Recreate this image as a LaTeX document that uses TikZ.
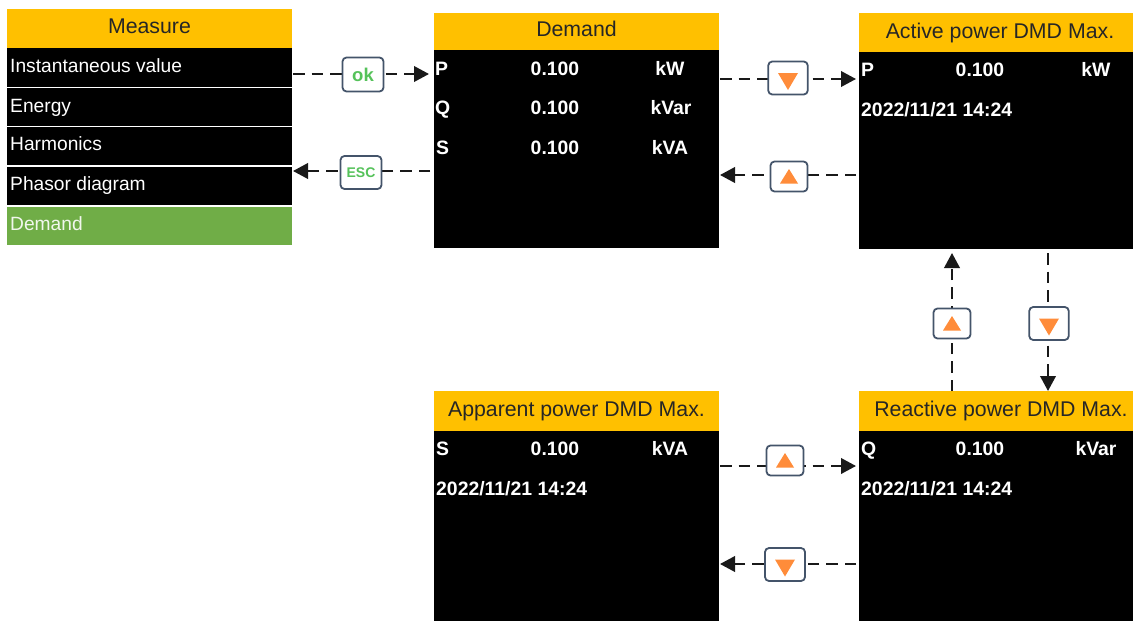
\documentclass[tikz,border=0pt]{standalone}
\usepackage{fontspec}
\setmainfont{Liberation Sans}
\usetikzlibrary{arrows.meta}
\definecolor{gold}{HTML}{FFC000}
\definecolor{leaf}{HTML}{70AD47}
\definecolor{slate}{HTML}{44546A}
\definecolor{tri}{HTML}{FF8C3A}
\definecolor{keygreen}{HTML}{55C25A}
\tikzset{
  panel/.style={inner sep=0pt,outer sep=0pt,anchor=north west},
  head/.style={panel,fill=gold,text=black!85,font=\fontsize{21.3}{24}\selectfont},
  screen/.style={panel,fill=black},
  menurow/.style={panel,fill=black},
  val/.style={text=white,inner sep=0pt,font=\bfseries\fontsize{19.4}{22}\selectfont},
  lft/.style={val,anchor=base west},
  mid/.style={val,anchor=base},
  menutxt/.style={text=white,inner sep=0pt,anchor=base west,font=\fontsize{19.2}{22}\selectfont},
  keybox/.style={draw=slate,line width=1.8pt,rounded corners=4pt,fill=white,inner sep=0pt},
  flow/.style={line width=2.2pt,black!90,dash pattern=on 11.5pt off 7pt,-{Triangle[length=15pt,width=15.5pt]}},
}
\newcommand{\trikeydown}[1]{\fill[tri] (#1.center) ++(-10,-5) -- ++(20,0) -- ++(-10,17) -- cycle;}
\newcommand{\trikeyup}[1]{\fill[tri] (#1.center) ++(-9,7) -- ++(18,0) -- ++(-9,-14.5) -- cycle;}
\begin{document}
\begin{tikzpicture}[x=1pt,y=-1pt]
\useasboundingbox (0,0) rectangle (1133,621);
% Measure menu
\node[head,minimum width=285pt,minimum height=39pt] (mhead) at (7,9) {\raisebox{4pt}{Measure}};
\node[menurow,minimum width=285pt,minimum height=39pt] (r1) at (7,48) {};
\node[menurow,minimum width=285pt,minimum height=38pt] (r2) at (7,88) {};
\node[menurow,minimum width=285pt,minimum height=38pt] (r3) at (7,127) {};
\node[menurow,minimum width=285pt,minimum height=38pt] (r4) at (7,167) {};
\node[panel,fill=leaf,minimum width=285pt,minimum height=38pt] (r5) at (7,207) {};
\node[menutxt] (t1) at (10,72) {Instantaneous value};
\node[menutxt] (t2) at (10,112) {Energy};
\node[menutxt] (t3) at (10,150) {Harmonics};
\node[menutxt] (t4) at (10,190) {Phasor diagram};
\node[menutxt,text=white!90!leaf] (t5) at (10,230) {Demand};
% Demand
\node[head,minimum width=285pt,minimum height=37pt] (dhead) at (434,13) {\raisebox{5pt}{Demand}};
\node[screen,minimum width=285pt,minimum height=198pt] (dbody) at (434,50) {};
\node[lft] (dp) at (435,75) {P};
\node[mid] (dpv) at (555,75) {0.100};
\node[mid] (dpu) at (670,75) {kW};
\node[lft] (dq) at (435,114) {Q};
\node[mid] (dqv) at (555,114) {0.100};
\node[mid] (dqu) at (671,114) {kVar};
\node[lft] (ds) at (436,154) {S};
\node[mid] (dsv) at (555,154) {0.100};
\node[mid] (dsu) at (670,154) {kVA};
% Active
\node[head,minimum width=274pt,minimum height=39pt] (ahead) at (859,13) {\hspace{8pt}\raisebox{2pt}{Active power DMD Max.}};
\node[screen,minimum width=274pt,minimum height=197pt] (abody) at (859,52) {};
\node[lft] (ap) at (861,76) {P};
\node[mid] (apv) at (980,76) {0.100};
\node[mid] (apu) at (1096,76) {kW};
\node[lft] (adt) at (861,116) {2022/11/21 14:24};
% Reactive
\node[head,minimum width=274pt,minimum height=40pt] (qhead) at (859,391) {\hspace{10pt}Reactive power DMD Max.};
\node[screen,minimum width=274pt,minimum height=190pt] (qbody) at (859,431) {};
\node[lft] (qp) at (861,455) {Q};
\node[mid] (qpv) at (980,455) {0.100};
\node[mid] (qpu) at (1096,455) {kVar};
\node[lft] (qdt) at (861,495) {2022/11/21 14:24};
% Apparent
\node[head,minimum width=285pt,minimum height=40pt] (shead) at (434,391) {Apparent power DMD Max.};
\node[screen,minimum width=285pt,minimum height=190pt] (sbody) at (434,431) {};
\node[lft] (sp) at (436,455) {S};
\node[mid] (spv) at (555,455) {0.100};
\node[mid] (spu) at (670,455) {kVA};
\node[lft] (sdt) at (436,495) {2022/11/21 14:24};
% line levels
\coordinate (lok) at (363,74);
\coordinate (lesc) at (361,171);
\coordinate (ld1) at (788,79);
\coordinate (lu1) at (789,175);
\coordinate (lu2) at (952,324);
\coordinate (ld2) at (1048,324);
\coordinate (lu3) at (785,466);
\coordinate (ld3) at (785,564);
% connectors
\draw[flow] ([xshift=1pt]r1.east |- lok) -- ([xshift=-5pt]dbody.west |- lok);
\draw[flow] ([xshift=-4pt]dbody.west |- lesc) -- ([xshift=1pt]r4.east |- lesc);
\draw[flow] ([xshift=1pt]dbody.east |- ld1) -- ([xshift=-3pt]abody.west |- ld1);
\draw[flow] ([xshift=-3pt]abody.west |- lu1) -- ([xshift=1pt]dbody.east |- lu1);
\draw[flow] (qhead.north -| lu2) -- ([yshift=-4pt]abody.south -| lu2);
\draw[flow] ([yshift=-4pt]abody.south -| ld2) -- (qhead.north -| ld2);
\draw[flow] ([xshift=1pt]sbody.east |- lu3) -- ([xshift=-3pt]qbody.west |- lu3);
\draw[flow] ([xshift=-3pt]qbody.west |- ld3) -- ([xshift=1pt]sbody.east |- ld3);
% keys
\node[keybox,minimum width=41pt,minimum height=34pt,text=keygreen,font=\bfseries\fontsize{18.5}{20}\selectfont] (okk) at (363,74.5) {ok};
\node[keybox,minimum width=41pt,minimum height=33pt,text=keygreen,font=\bfseries\fontsize{14}{15}\selectfont] (esck) at (361,172.5) {ESC};
\node[keybox,minimum width=39.5pt,minimum height=33pt] (d1) at (788,78) {};
\node[keybox,minimum width=37pt,minimum height=30pt] (u1) at (789,176.5) {};
\node[keybox,minimum width=37pt,minimum height=30pt] (u2) at (952,323.5) {};
\node[keybox,minimum width=39.5pt,minimum height=33pt] (d2) at (1049,323.5) {};
\node[keybox,minimum width=37pt,minimum height=30pt] (u3) at (785,460.5) {};
\node[keybox,minimum width=40pt,minimum height=33pt] (d3) at (785,564.5) {};
\trikeydown{d1}\trikeyup{u1}\trikeyup{u2}\trikeydown{d2}\trikeyup{u3}\trikeydown{d3}
\end{tikzpicture}
\end{document}
